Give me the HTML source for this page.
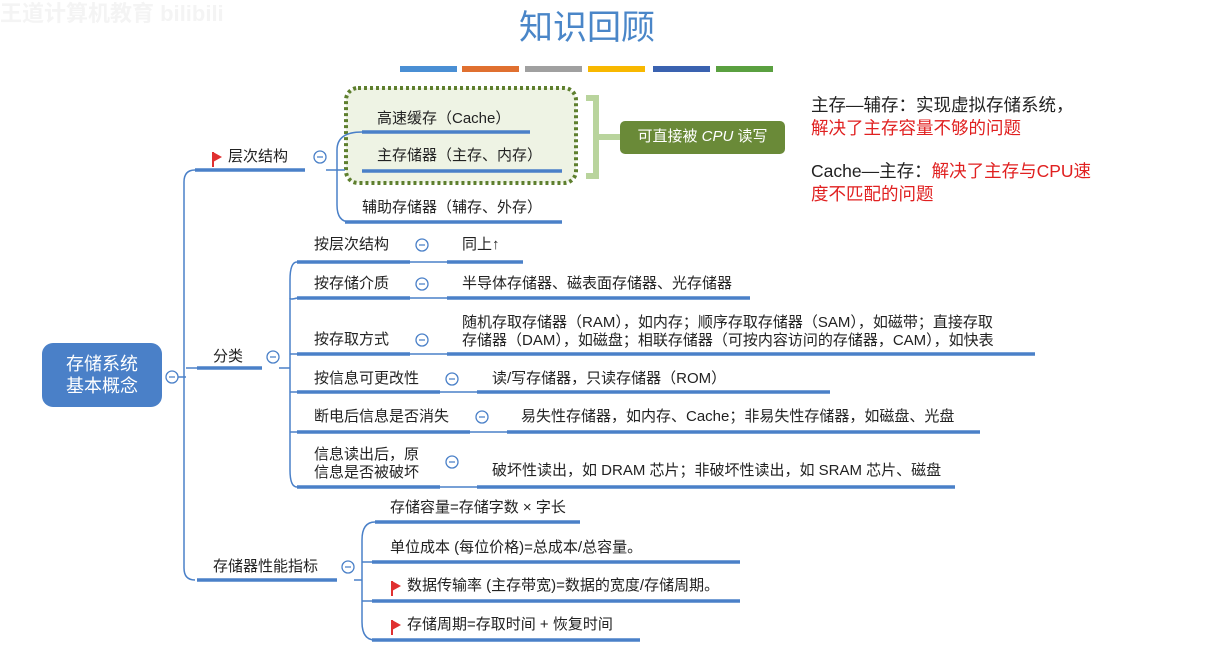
<!DOCTYPE html>
<html><head><meta charset="utf-8"><style>
body{margin:0;width:1210px;height:651px;background:#fff;position:relative;overflow:hidden;font-family:"Liberation Sans","Noto Sans CJK SC",sans-serif;}
.t{position:absolute;font-size:15px;color:#222;white-space:nowrap;line-height:18px;}
.r{color:#e02020}
.flag{display:inline-block;width:0;height:0;border-left:9px solid #e03030;border-top:5px solid transparent;border-bottom:5px solid transparent;position:relative;margin-right:6px;vertical-align:-1px}
.flag:before{content:"";position:absolute;left:-10px;top:-5px;width:2px;height:15px;background:#e03030}
</style></head><body>
<div class="t" style="left:0;top:5px;font-size:22px;color:#f4f4f4;font-weight:bold">王道计算机教育 bilibili</div>
<div class="t" style="left:519px;top:8px;font-size:34px;line-height:40px;color:#4a86c8">知识回顾</div>
<svg width="1210" height="651" style="position:absolute;left:0;top:0">
<g>
<rect x="400" y="66" width="57" height="6" fill="#4a8fd4"/>
<rect x="462" y="66" width="57" height="6" fill="#e07030"/>
<rect x="525" y="66" width="57" height="6" fill="#a0a0a0"/>
<rect x="588" y="66" width="57" height="6" fill="#f8b800"/>
<rect x="653" y="66" width="57" height="6" fill="#3a62b0"/>
<rect x="716" y="66" width="57" height="6" fill="#5aa040"/>
</g>
<rect x="346" y="88" width="230" height="95" rx="12" fill="#eef3e4" stroke="#5e7f2e" stroke-width="4" stroke-dasharray="3 3"/>
<path d="M586 98 H596 V176 H586 M596 137 H620" stroke="#b9d49d" stroke-width="6" fill="none"/>
<rect x="620" y="121" width="165" height="33" rx="5" fill="#6a8a38"/>
<rect x="42" y="343" width="120" height="64" rx="11" fill="#4a80c8"/>
<g fill="none" stroke="#4a80c8" stroke-width="1.5">
<path d="M178 377 H186"/>
<path d="M195 170 Q184 170 184 182 V568 Q184 580 195 580"/>
<path d="M186 368 H197"/>
<path d="M326 170 H345"/>
<path d="M362 132 Q337 132 337 150 V205 Q337 222 350 222"/>
<path d="M279 368 H290"/>
<path d="M297 262 Q290 262 290 280 V470 Q290 487 297 487"/>
<path d="M290 298 Q290 300 297 298"/><path d="M290 354 H297"/><path d="M290 392 H297"/><path d="M290 432 H297"/>
<path d="M410 262 H447 M410 298 H447 M410 354 H447 M440 392 H477 M470 432 H507 M440 487 H477"/>
<path d="M354 580 H362"/>
<path d="M375 522 Q362 522 362 540 V622 Q362 640 375 640"/>
<path d="M362 562 H372 M362 601 H372"/>
</g>
<g stroke="#4a80c8" stroke-width="3.5">
<path d="M195 170 H305"/><path d="M362 132 H530"/><path d="M362 171 H562"/><path d="M345 222 H562"/>
<path d="M197 368 H262"/>
<path d="M297 262 H410 M447 262 H523"/>
<path d="M297 298 H410 M447 298 H750"/>
<path d="M297 354 H410 M447 354 H1035"/>
<path d="M297 392 H440 M477 392 H830"/>
<path d="M297 432 H470 M507 432 H980"/>
<path d="M297 487 H440 M477 487 H955"/>
<path d="M197 580 H337"/>
<path d="M375 522 H580 M372 562 H740 M372 601 H740 M372 640 H640"/>
</g>
<g fill="#fff" stroke="#4a80c8" stroke-width="1.3">
<circle cx="172" cy="377" r="6"/><circle cx="320" cy="157" r="6"/><circle cx="273" cy="357" r="6"/>
<circle cx="422" cy="245" r="6"/><circle cx="422" cy="284" r="6"/><circle cx="422" cy="340" r="6"/>
<circle cx="452" cy="379" r="6"/><circle cx="482" cy="417" r="6"/><circle cx="452" cy="462" r="6"/>
<circle cx="348" cy="567" r="6"/>
</g>
<g stroke="#4a80c8" stroke-width="1.3">
<path d="M169 377h6M317 157h6M270 357h6M419 245h6M419 284h6M419 340h6M449 379h6M479 417h6M449 462h6M345 567h6"/>
</g>
</svg>
<div class="t" style="left:620px;top:128px;width:165px;text-align:center;color:#fff;font-size:15px">可直接被 <i>CPU</i> 读写</div>
<div class="t" style="left:42px;top:353px;width:120px;text-align:center;color:#fff;font-size:18px;line-height:22px">存储系统<br>基本概念</div>
<div class="t" style="left:213px;top:148px"><span class="flag"></span>层次结构</div>
<div class="t" style="left:377px;top:110px">高速缓存（Cache）</div>
<div class="t" style="left:377px;top:147px">主存储器（主存、内存）</div>
<div class="t" style="left:362px;top:199px">辅助存储器（辅存、外存）</div>
<div class="t" style="left:213px;top:348px">分类</div>
<div class="t" style="left:314px;top:236px">按层次结构</div>
<div class="t" style="left:462px;top:236px">同上↑</div>
<div class="t" style="left:314px;top:275px">按存储介质</div>
<div class="t" style="left:462px;top:275px">半导体存储器、磁表面存储器、光存储器</div>
<div class="t" style="left:314px;top:331px">按存取方式</div>
<div class="t" style="left:462px;top:314px">随机存取存储器（RAM），如内存；顺序存取存储器（SAM），如磁带；直接存取<br>存储器（DAM），如磁盘；相联存储器（可按内容访问的存储器，CAM），如快表</div>
<div class="t" style="left:314px;top:370px">按信息可更改性</div>
<div class="t" style="left:492px;top:370px">读/写存储器，只读存储器（ROM）</div>
<div class="t" style="left:314px;top:408px">断电后信息是否消失</div>
<div class="t" style="left:521px;top:408px">易失性存储器，如内存、Cache；非易失性存储器，如磁盘、光盘</div>
<div class="t" style="left:314px;top:446px">信息读出后，原<br>信息是否被破坏</div>
<div class="t" style="left:492px;top:462px">破坏性读出，如 DRAM 芯片；非破坏性读出，如 SRAM 芯片、磁盘</div>
<div class="t" style="left:213px;top:558px">存储器性能指标</div>
<div class="t" style="left:390px;top:499px">存储容量=存储字数 × 字长</div>
<div class="t" style="left:390px;top:539px">单位成本 (每位价格)=总成本/总容量。</div>
<div class="t" style="left:392px;top:577px"><span class="flag"></span>数据传输率 (主存带宽)=数据的宽度/存储周期。</div>
<div class="t" style="left:392px;top:616px"><span class="flag"></span>存储周期=存取时间 + 恢复时间</div>
<div class="t" style="left:811px;top:94px;font-size:17.5px;line-height:23px">主存—辅存：实现虚拟存储系统，<br><span class="r">解决了主存容量不够的问题</span></div>
<div class="t" style="left:811px;top:160px;font-size:17.5px;line-height:23px">Cache—主存：<span class="r">解决了主存与CPU速</span><br><span class="r">度不匹配的问题</span></div>
</body></html>
